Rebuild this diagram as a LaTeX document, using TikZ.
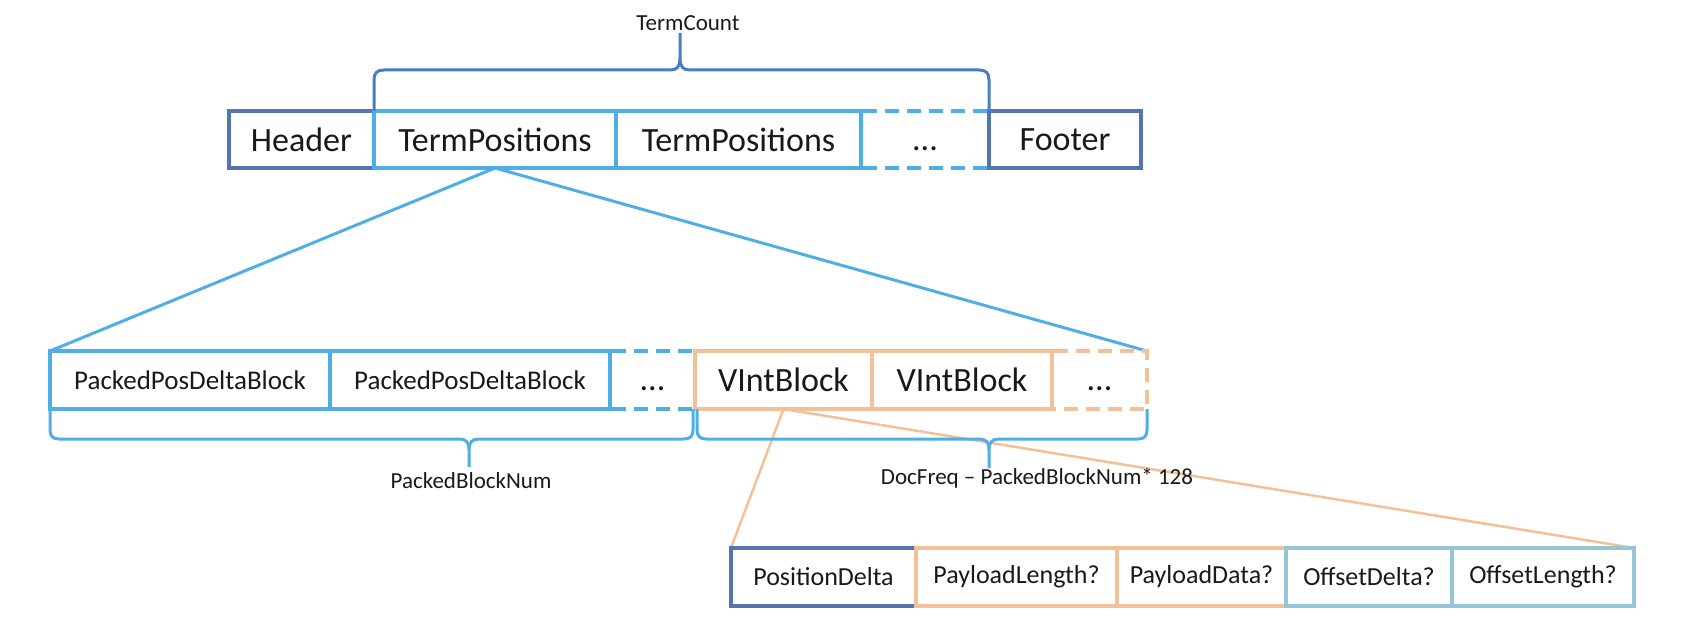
\documentclass[tikz,border=0pt]{standalone}
\usepackage{fontspec}
\setmainfont{Carlito}
\definecolor{dkblue}{RGB}{84,116,178}
\definecolor{ltblue}{RGB}{80,174,230}
\definecolor{brblue}{RGB}{70,126,196}
\definecolor{orng}{RGB}{244,192,152}
\definecolor{tealb}{RGB}{150,198,214}
\definecolor{txt}{RGB}{25,25,25}
\begin{document}
\begin{tikzpicture}[x=1pt,y=-1pt,
  cell/.style={draw, line width=4pt, minimum height=57pt, inner sep=0pt, outer sep=0pt, text=txt, anchor=center},
  bigf/.style={font=\fontsize{34}{40}\selectfont},
  midf/.style={font=\fontsize{27}{32}\selectfont},
  smf/.style={font=\fontsize{26}{30}\selectfont},
  lbl/.style={font=\fontsize{23}{27}\selectfont, text=txt, inner sep=0pt},
  dashedge/.style={line width=4pt, dash pattern=on 14pt off 8pt},
  brace/.style={line width=3pt},
  conn/.style={line width=3pt},
]
\useasboundingbox (0,0) rectangle (1684,628);

% ---- row 1 ----
\node[cell, draw=dkblue, bigf, minimum width=145pt] (header) at (301.5,139.5) {Header};
\node[cell, draw=ltblue, bigf, minimum width=242pt] (tp1) at (495,139.5) {TermPositions};
\node[cell, draw=ltblue, bigf, minimum width=245pt] (tp2) at (738.5,139.5) {TermPositions};
\node[cell, draw=none, bigf, minimum width=128pt] (dots1) at (925,139.5) {\vphantom{H}...};
\node[cell, draw=dkblue, bigf, minimum width=152pt] (footer) at (1065,139.5) {Footer};
\draw[dashedge, ltblue] ([xshift=2pt]dots1.north west) -- ([xshift=-2pt]dots1.north east);
\draw[dashedge, ltblue] ([xshift=2pt]dots1.south west) -- ([xshift=-2pt]dots1.south east);

% ---- row 2 ----
\node[cell, draw=none, midf, minimum width=280pt, minimum height=58pt] (p1) at (190,380) {PackedPosDeltaBlock};
\node[cell, draw=none, midf, minimum width=280pt, minimum height=58pt] (p2) at (470,380) {PackedPosDeltaBlock};
\node[cell, draw=none, bigf, minimum width=85pt, minimum height=58pt] (dots2) at (652.5,380) {\vphantom{H}...};
\node[cell, draw=none, bigf, minimum width=177pt, minimum height=58pt] (v1) at (783.5,380) {VIntBlock};
\node[cell, draw=none, bigf, minimum width=180pt, minimum height=58pt] (v2) at (962,380) {VIntBlock};
\node[cell, draw=none, bigf, minimum width=95pt, minimum height=58pt] (dots3) at (1099.5,380) {\vphantom{H}...};

% ---- row 3 ----
\node[cell, draw=none, smf, minimum width=185pt, minimum height=58pt] (pd) at (823.5,577) {PositionDelta};
\node[cell, draw=none, smf, minimum width=201pt, minimum height=58pt] (pl) at (1016.5,577) {PayloadLength?};
\node[cell, draw=none, smf, minimum width=169pt, minimum height=58pt] (pdat) at (1201.5,577) {PayloadData?};
\node[cell, draw=none, smf, minimum width=166pt, minimum height=58pt] (od) at (1369,577) {OffsetDelta?};
\node[cell, draw=none, smf, minimum width=182pt, minimum height=58pt] (ol) at (1543,577) {OffsetLength?};

% ---- connectors ----
\draw[conn, ltblue] (tp1.south) -- (p1.north west);
\draw[conn, ltblue] (tp1.south) -- (dots3.north east);
\draw[conn, orng, line width=2.5pt] (v1.south) -- (pd.north west);
\draw[conn, orng, line width=2.5pt] (v1.south) -- (ol.north east);

% ---- row 2 borders ----
\draw[line width=4pt, ltblue] (p1.north west) rectangle (p1.south east);
\draw[line width=4pt, ltblue] (p2.north west) rectangle (p2.south east);
\draw[dashedge, ltblue] ([xshift=2pt]dots2.north west) -- ([xshift=-2pt]dots2.north east);
\draw[dashedge, ltblue] ([xshift=2pt]dots2.south west) -- ([xshift=-2pt]dots2.south east);
\draw[line width=4pt, orng] (v1.north west) rectangle (v1.south east);
\draw[line width=4pt, orng] (v2.north west) rectangle (v2.south east);
\draw[dashedge, orng] ([xshift=2pt]dots3.north west) -- (dots3.north east) -- (dots3.south east) -- ([xshift=2pt]dots3.south west);

% ---- row 3 borders ----
\draw[line width=4pt, dkblue] (pd.north west) rectangle (pd.south east);
\draw[line width=4pt, orng] (pl.north west) rectangle (pl.south east);
\draw[line width=4pt, orng] (pdat.north west) rectangle (pdat.south east);
\draw[line width=4pt, tealb] (od.north west) rectangle (od.south east);
\draw[line width=4pt, tealb] (ol.north west) rectangle (ol.south east);

% ---- braces ----
\coordinate (tcTip) at (680,33);
\draw[brace, brblue] (tp1.north west) -- (374,80) .. controls (374,73) and (377,70) .. (384,70)
  -- (670,70) .. controls (677,70) and (680,67) .. (680,58) -- (tcTip);
\draw[brace, brblue] (dots1.north east) -- (989,80) .. controls (989,73) and (986,70) .. (979,70)
  -- (690,70) .. controls (683,70) and (680,67) .. (680,58);

\coordinate (pbTip) at (469,467);
\draw[brace, ltblue] (p1.south west) -- (50,430) .. controls (50,436) and (53,439) .. (59,439)
  -- (459,439) .. controls (466,439) and (469,442) .. (469,450) -- (pbTip);
\draw[brace, ltblue] (693,409) -- (693,430) .. controls (693,436) and (690,439) .. (684,439)
  -- (479,439) .. controls (472,439) and (469,442) .. (469,450);

\coordinate (dfTip) at (989,468);
\draw[brace, ltblue] (697,409) -- (697,430) .. controls (697,436) and (700,439) .. (706,439)
  -- (979,439) .. controls (986,439) and (989,442) .. (989,450) -- (dfTip);
\draw[brace, ltblue] (dots3.south east) -- (1147,430) .. controls (1147,436) and (1144,439) .. (1138,439)
  -- (999,439) .. controls (992,439) and (989,442) .. (989,450);

% ---- labels ----
\node[lbl] (termcount) at (688,23) {TermCount};
\node[lbl] (pbnum) at (471,481) {PackedBlockNum};
\node[lbl] (docfreq) at (1037,478) {DocFreq – PackedBlockNum* 128};
\end{tikzpicture}
\end{document}
